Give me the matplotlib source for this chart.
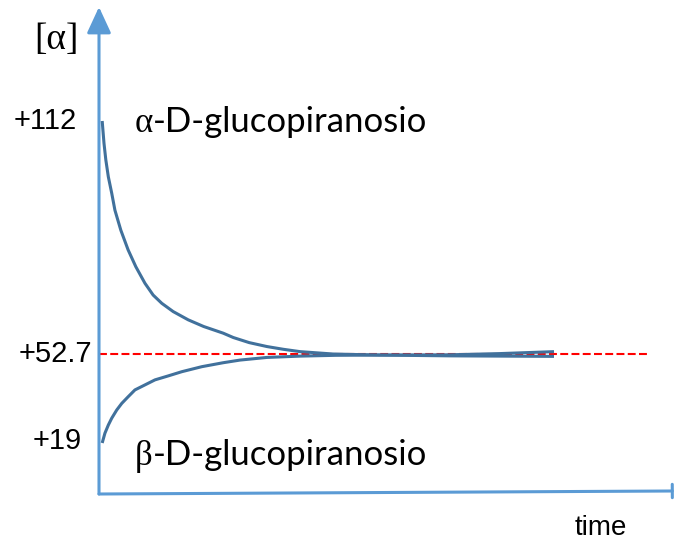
"""Mutarotazione del glucosio: [α] in funzione del tempo per i due anomeri."""
import matplotlib
matplotlib.use("Agg")
import numpy as np
import matplotlib.pyplot as plt
from matplotlib.patches import FancyArrowPatch
from matplotlib.transforms import offset_copy

# ---- dati ----
ALPHA_START = 112.0
BETA_START = 19.0
EQUILIBRIUM = 52.7

alpha_t = [0.7, 1.1, 1.5, 2.05, 2.8, 3.5, 4.8, 6.4, 8.1, 10.1, 11.9, 13.8, 16.3,
           19.6, 23.0, 27.3, 29.5, 33.0, 36.9, 40.5, 44.2, 51.4, 61.8, 77.0, 100.0]
alpha_val = [ALPHA_START, 106.3, 102.1, 97.8, 93.6, 89.3, 84.2, 79.2, 74.9, 70.7,
             67.7, 65.6, 63.5, 61.4, 59.7, 58.0, 56.9, 55.6, 54.6, 53.9, 53.3,
             52.7, 52.3, 52.0, 51.8]

beta_t = [0.7, 1.3, 2.05, 2.8, 3.9, 5.0, 6.4, 7.9, 10.1, 12.3, 15.2, 18.2, 22.6,
          27.3, 31.0, 36.9, 44.2, 52.0, 61.8, 77.0, 88.0, 100.0]
beta_val = [BETA_START, 22.7, 25.8, 28.4, 31.5, 34.0, 36.5, 39.1, 41.0, 42.9,
            44.4, 46.0, 47.9, 49.4, 50.4, 51.4, 51.9, 52.2, 52.3, 52.4, 52.8, 53.3]

tick_values = [ALPHA_START, EQUILIBRIUM, BETA_START]
tick_labels = ["+112", "+52.7", "+19"]

# asse y non in scala: tratti lineari tra i valori notevoli
SCALE_VAL = [-18.0, 0.0, 19.0, 52.7, 112.0, 145.0]
SCALE_POS = [-48.0, 0.0, 51.0, 140.0, 373.0, 503.0]


def fwd(v):
    return np.interp(v, SCALE_VAL, SCALE_POS)


def inv(p):
    return np.interp(p, SCALE_POS, SCALE_VAL)


AXIS_BLUE = "#5B9BD5"
CURVE_BLUE = "#41719C"

fig = plt.figure(figsize=(6.75, 5.4), dpi=100)
ax = fig.add_axes([0, 0, 1, 1])
ax.set_yscale("function", functions=(fwd, inv))
ax.set_xlim(-99 / 4.55, 576 / 4.55)
ax.set_ylim(inv(-46), inv(494))
ax.axis("off")

# assi disegnati a mano
ax.add_patch(FancyArrowPatch((0, 0), (0, inv(487)), arrowstyle="-|>,head_length=0.8,head_width=0.37",
                             mutation_scale=20, lw=2.2, color=AXIS_BLUE,
                             shrinkA=0, shrinkB=0, zorder=3))
ax.add_patch(FancyArrowPatch((0, 0), (126, inv(3)), arrowstyle="|-|,widthA=0,widthB=0.24",
                             mutation_scale=20, lw=2.2, color=AXIS_BLUE,
                             shrinkA=0, shrinkB=0, zorder=3))

ax.hlines(EQUILIBRIUM, 0, 121, colors="#FF0000", lw=1.5, linestyles=(0, (3.8, 1.6)), zorder=2)

ax.plot(alpha_t, alpha_val, color=CURVE_BLUE, lw=2.2, solid_joinstyle="round",
        solid_capstyle="butt", zorder=4)
ax.plot(beta_t, beta_val, color=CURVE_BLUE, lw=2.2, solid_joinstyle="round",
        solid_capstyle="butt", zorder=4)

# etichette dei valori
ytrans = ax.get_yaxis_transform()
for val, lab, xr in zip(tick_values, tick_labels, [0.114, 0.136, 0.121]):
    ax.text(xr, val, lab, transform=offset_copy(ytrans, fig=fig, y=2 if val == BETA_START else 0, units="dots"),
            ha="right", va="center", fontsize=21, family="Liberation Sans")

ax.text(56 / 675, 1 - 40 / 540, "[α]", transform=ax.transAxes, ha="center", va="center",
        fontsize=27, family="Liberation Serif")
ax.text(601 / 675, 1 - 535 / 540, "time", transform=ax.transAxes, ha="center", va="baseline",
        fontsize=20, family="Liberation Sans")

# nomi degli anomeri: lettera greca in serif, resto in sans
renderer = fig.canvas.get_renderer()
for greek, rest, base_px in [("α", "-D-glucopiranosio", 132), ("β", "-D-glucopiranosio", 465)]:
    g = ax.text(135 / 675, 1 - base_px / 540, greek, transform=ax.transAxes,
                ha="left", va="baseline", fontsize=25, family="Liberation Serif")
    bb = g.get_window_extent(renderer)
    x_ax = ax.transAxes.inverted().transform((bb.x1, 0))[0]
    ax.text(x_ax, 1 - base_px / 540, rest, transform=ax.transAxes,
            ha="left", va="baseline", fontsize=25, family="Lato")

fig.savefig("out.png", dpi=100)
